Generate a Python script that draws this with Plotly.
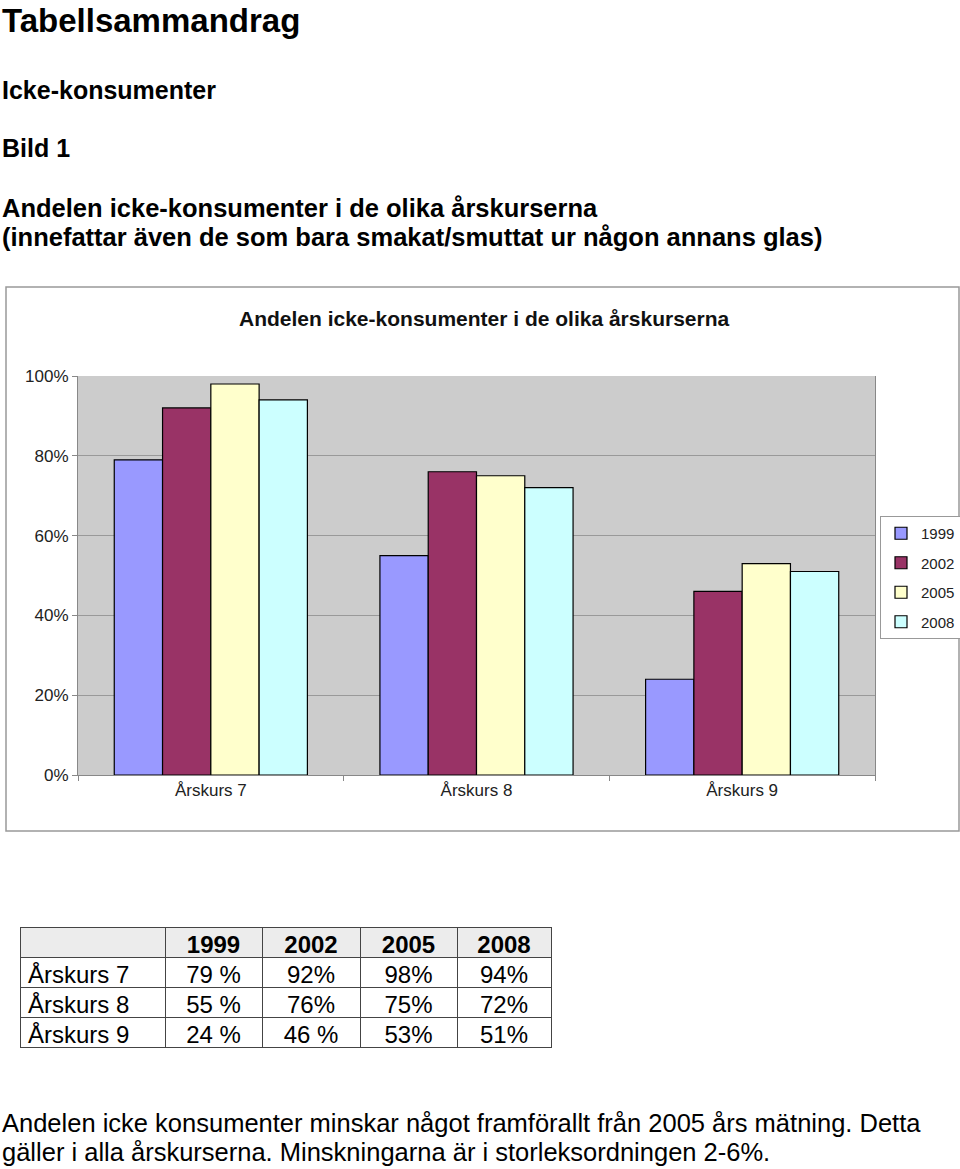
import plotly.graph_objects as go

# ---- data ----
categories = ["Årskurs 7", "Årskurs 8", "Årskurs 9"]
years = ["1999", "2002", "2005", "2008"]
v1999 = [79, 55, 24]
v2002 = [92, 76, 46]
v2005 = [98, 75, 53]
v2008 = [94, 72, 51]
series = [v1999, v2002, v2005, v2008]
colors = ["#9999FF", "#993366", "#FFFFCC", "#CCFFFF"]

# table text as printed
t1999 = ["79 %", "55 %", "24 %"]
t2002 = ["92%", "76%", "46 %"]
t2005 = ["98%", "75%", "53%"]
t2008 = ["94%", "72%", "51%"]

W, H = 960, 1169
def px(x):
    return x / W
def py(y):
    return 1 - y / H

font = "Liberation Sans, Arial, sans-serif"

fig = go.Figure()
for i, (yr, vals, col) in enumerate(zip(years, series, colors)):
    fig.add_trace(go.Bar(
        x=categories, y=vals, name=yr,
        marker=dict(color=col, line=dict(color="black", width=1.2)),
        legendgroup=yr, showlegend=True,
    ))

fig.add_trace(go.Table(
    domain=dict(x=[px(20), px(551)], y=[py(1060), py(927)]),
    columnwidth=[145, 97, 98, 97, 94],
    header=dict(
        values=["", "1999", "2002", "2005", "2008"],
        fill_color="#ECECEC", line=dict(color="#444", width=1),
        font=dict(family=font, size=24, color="black", weight="bold"),
        align=["left", "center", "center", "center", "center"], height=30,
    ),
    cells=dict(
        values=[categories, t1999, t2002, t2005, t2008],
        fill_color="white", line=dict(color="#444", width=1),
        font=dict(family=font, size=24, color="black"),
        align=["left", "center", "center", "center", "center"], height=30,
    ),
))

anns = [
    dict(text="<b>Icke-konsumenter</b>", y=90, size=25),
    dict(text="<b>Bild 1</b>", y=148, size=25),
    dict(text="<b>Andelen icke-konsumenter i de olika årskurserna</b>", y=208, size=25.5),
    dict(text="<b>(innefattar även de som bara smakat/smuttat ur någon annans glas)</b>", y=237, size=25.5),
    dict(text="Andelen icke konsumenter minskar något framförallt från 2005 års mätning. Detta", y=1123, size=25.5),
    dict(text="gäller i alla årskurserna. Minskningarna är i storleksordningen 2-6%.", y=1152, size=25.5),
]
annotations = [dict(
    text="<b>Tabellsammandrag</b>", xref="paper", yref="paper", x=0, y=1,
    xanchor="left", yanchor="top", showarrow=False,
    font=dict(family=font, size=33, color="black"),
)]
for a in anns:
    annotations.append(dict(
        text=a["text"], xref="paper", yref="paper", x=0, y=py(a["y"]),
        xanchor="left", yanchor="middle", showarrow=False,
        font=dict(family=font, size=a["size"], color="black"),
    ))
annotations.append(dict(
    text="<b>Andelen icke-konsumenter i de olika årskurserna</b>",
    xref="paper", yref="paper", x=px(484), y=py(318), xanchor="center", yanchor="middle",
    showarrow=False, font=dict(family=font, size=21, color="#111"),
))

fig.update_layout(
    template="none",
    width=W, height=H,
    margin=dict(l=0, r=0, t=0, b=0, autoexpand=False),
    paper_bgcolor="white", plot_bgcolor="#CCCCCC",
    barmode="group", bargap=0.273, bargroupgap=0,
    font=dict(family=font, color="#222"),
    annotations=annotations,
    shapes=[dict(type="rect", xref="paper", yref="paper",
                 x0=px(6), x1=px(959), y0=py(831), y1=py(287),
                 line=dict(color="#999", width=1.5), layer="below")],
    legend=dict(x=px(880), y=py(516), xanchor="left", yanchor="top",
                bgcolor="white", bordercolor="#999", borderwidth=1,
                font=dict(size=15, color="#222"), traceorder="grouped",
                tracegroupgap=7, itemwidth=30),
    xaxis=dict(domain=[px(78), px(875)], showline=True, linecolor="#888",
               tickson="boundaries", ticks="outside", ticklen=5, tickcolor="#888",
               tickfont=dict(size=17, color="#222"), showgrid=False, automargin=False),
    yaxis=dict(domain=[py(775), py(376)], range=[0, 100], dtick=20,
               ticksuffix="%", showline=True, linecolor="#888", mirror=True,
               ticks="outside", ticklen=5, tickcolor="#888",
               showgrid=True, gridcolor="#999", gridwidth=1,
               tickfont=dict(size=17, color="#222"), zeroline=False, automargin=False),
)

fig.write_html("out.html")
